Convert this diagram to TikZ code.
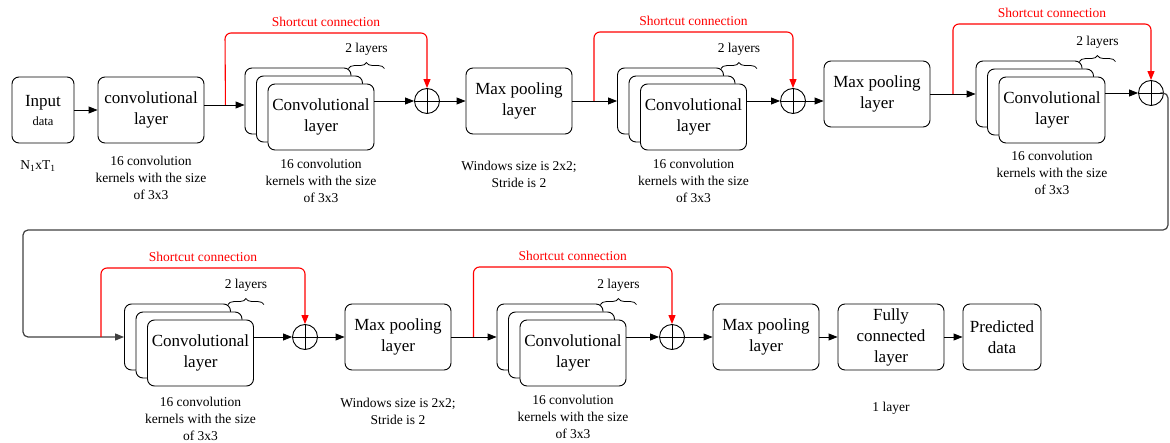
\documentclass[tikz,border=0pt]{standalone}
\usepackage{fontspec}
\setmainfont{Liberation Serif}
\usetikzlibrary{positioning, arrows.meta, calc, decorations.pathreplacing}

\begin{document}
\begin{tikzpicture}[
  x=1pt, y=-1pt,
  align=center,
  font=\rmfamily\fontsize{17}{21}\selectfont,
  % Block styles
  box/.style={draw, rectangle, rounded corners=7pt, line width=0.9pt, fill=white, minimum width=106pt, minimum height=66pt, inner sep=2pt},
  sumnode/.style={draw, circle, line width=0.9pt, minimum size=25pt, inner sep=0pt, fill=white,
    path picture={\draw[line width=0.9pt] (path picture bounding box.north) -- (path picture bounding box.south)
      (path picture bounding box.west) -- (path picture bounding box.east);}},
  caption/.style={font=\rmfamily\fontsize{13.5}{17}\selectfont, inner sep=2pt},
  % Arrow styles
  line/.style={draw, line width=0.9pt, -{Triangle[length=9pt, width=7pt]}},
  shortcut/.style={line, red, line width=1.1pt, rounded corners=6pt},
  layers/.style={decorate, decoration={brace, amplitude=6pt}, line width=0.8pt}
]
  \useasboundingbox (0,0) rectangle (1170,443);

  % ==========================================
  % ROW 1
  % ==========================================
  \node[box, minimum width=62pt] (input) at (43,110) {Input\\[-2pt]{\fontsize{12.5}{15}\selectfont data}};
  \node[caption] (dims) at (38,166) {N\textsubscript{1}xT\textsubscript{1}};

  \node[box] (conv) at (151,110) {convolutional\\layer};
  \node[caption, below=10pt of conv] {16 convolution\\kernels with the size\\of 3x3};
  \draw[line] (input.east) -- (conv.west);

  % Residual block 1
  \node[box] (stk1b) at (298,101) {};
  \node[box, xshift=11.5pt, yshift=-8pt] (stk1m) at (stk1b) {};
  \node[box, xshift=23pt, yshift=-16pt] (stk1f) at (stk1b) {Convolutional\\layer};
  \node[caption, below=6pt of stk1f] {16 convolution\\kernels with the size\\of 3x3};
  \draw[layers] ($(stk1f.north east)+(-26,-15)$) -- ($(stk1f.north east)+(10,-15)$) node[midway, above=11pt, caption] {2 layers};
  \node[sumnode] (sum1) at (427,101) {};

  \coordinate[yshift=5pt] (convout) at (conv.east);
  \coordinate (br1) at ($(convout)+(21,0)$);
  \coordinate (top1) at (225,33);
  \draw[line] (convout) -- (convout -| stk1b.west);
  \draw[line] (stk1f.east |- sum1) -- (sum1.west);
  \draw[shortcut] (br1) -- (top1) -| (sum1.north) node[pos=0.25, above=4pt, caption] {Shortcut connection};

  % Max pooling 1
  \node[box] (pool1) at (519,101) {Max pooling\\layer};
  \node[caption, below=24pt of pool1] {Windows size is 2x2;\\Stride is 2};
  \draw[line] (sum1.east) -- (pool1.west);

  % Residual block 2
  \node[box] (stk2b) at (670.5,101) {};
  \node[box, xshift=11.5pt, yshift=-8pt] (stk2m) at (stk2b) {};
  \node[box, xshift=23pt, yshift=-16pt] (stk2f) at (stk2b) {Convolutional\\layer};
  \node[caption, below=6pt of stk2f] {16 convolution\\kernels with the size\\of 3x3};
  \draw[layers] ($(stk2f.north east)+(-26,-15)$) -- ($(stk2f.north east)+(10,-15)$) node[midway, above=11pt, caption] {2 layers};
  \node[sumnode] (sum2) at (793,101) {};

  \coordinate (br2) at (594,101);
  \coordinate (top2) at (594,32);
  \draw[line] (pool1.east) -- (stk2b.west);
  \draw[line] (stk2f.east |- sum2) -- (sum2.west);
  \draw[shortcut] (br2) -- (top2) -| (sum2.north) node[pos=0.25, above=4pt, caption] {Shortcut connection};

  % Max pooling 2
  \node[box] (pool2) at (877,94) {Max pooling\\layer};
  \draw[line] (sum2.east) -- (sum2.east -| pool2.west);

  % Residual block 3
  \node[box] (stk3b) at (1029,94) {};
  \node[box, xshift=11.5pt, yshift=-8pt] (stk3m) at (stk3b) {};
  \node[box, xshift=23pt, yshift=-16pt] (stk3f) at (stk3b) {Convolutional\\layer};
  \node[caption, below=5pt of stk3f] {16 convolution\\kernels with the size\\of 3x3};
  \draw[layers] ($(stk3f.north east)+(-26,-15)$) -- ($(stk3f.north east)+(10,-15)$) node[midway, above=11pt, caption] {2 layers};
  \node[sumnode] (sum3) at (1151,93) {};

  \coordinate (br3) at (953,94);
  \coordinate (top3) at (953,24);
  \draw[line] (pool2.east) -- (stk3b.west);
  \draw[line] (stk3f.east |- sum3) -- (sum3.west);
  \draw[shortcut] (br3) -- (top3) -| (sum3.north) node[pos=0.25, above=4pt, caption] {Shortcut connection};

  % ==========================================
  % ROW 2
  % ==========================================
  % Residual block 4
  \node[box] (stk4b) at (177.5,337) {};
  \node[box, xshift=11.5pt, yshift=-8pt] (stk4m) at (stk4b) {};
  \node[box, xshift=23pt, yshift=-16pt] (stk4f) at (stk4b) {Convolutional\\layer};
  \node[caption, below=8pt of stk4f] {16 convolution\\kernels with the size\\of 3x3};
  \draw[layers] ($(stk4f.north east)+(-26,-15)$) -- ($(stk4f.north east)+(10,-15)$) node[midway, above=11pt, caption] {2 layers};
  \node[sumnode] (sum4) at (305,337) {};

  % Wrap from row 1 to row 2
  \coordinate (turnR) at (1168,230);
  \coordinate (turnL) at (23,230);
  \draw[line, black!75, line width=1.2pt, rounded corners=5pt] (sum3.east) -| (turnR) -- (turnL) |- (stk4b.west);

  \coordinate (br4) at (101,337);
  \coordinate (top4) at (101,268);
  \draw[line] (stk4f.east |- sum4) -- (sum4.west);
  \draw[shortcut] (br4) -- (top4) -| (sum4.north) node[pos=0.25, above=4pt, caption] {Shortcut connection};

  % Max pooling 3
  \node[box] (pool3) at (398,337) {Max pooling\\layer};
  \node[caption, below=25pt of pool3] {Windows size is 2x2;\\Stride is 2};
  \draw[line] (sum4.east) -- (pool3.west);

  % Residual block 5
  \node[box] (stk5b) at (550,337) {};
  \node[box, xshift=11.5pt, yshift=-8pt] (stk5m) at (stk5b) {};
  \node[box, xshift=23pt, yshift=-16pt] (stk5f) at (stk5b) {Convolutional\\layer};
  \node[caption, below=6pt of stk5f] {16 convolution\\kernels with the size\\of 3x3};
  \draw[layers] ($(stk5f.north east)+(-26,-15)$) -- ($(stk5f.north east)+(10,-15)$) node[midway, above=11pt, caption] {2 layers};
  \node[sumnode] (sum5) at (672,337) {};

  \coordinate (br5) at (473.5,337);
  \coordinate (top5) at (473.5,267);
  \draw[line] (pool3.east) -- (stk5b.west);
  \draw[line] (stk5f.east |- sum5) -- (sum5.west);
  \draw[shortcut] (br5) -- (top5) -| (sum5.north) node[pos=0.25, above=4pt, caption] {Shortcut connection};

  % Output layers
  \node[box] (pool4) at (766,337) {Max pooling\\layer};
  \node[box] (fc) at (891,337) {Fully\\connected\\layer};
  \node[caption, below=29pt of fc] {1 layer};
  \node[box, minimum width=78pt] (pred) at (1002,337) {Predicted\\data};

  \draw[line] (sum5.east) -- (pool4.west);
  \draw[line] (pool4.east) -- (fc.west);
  \draw[line] (fc.east) -- (pred.west);

\end{tikzpicture}
\end{document}
